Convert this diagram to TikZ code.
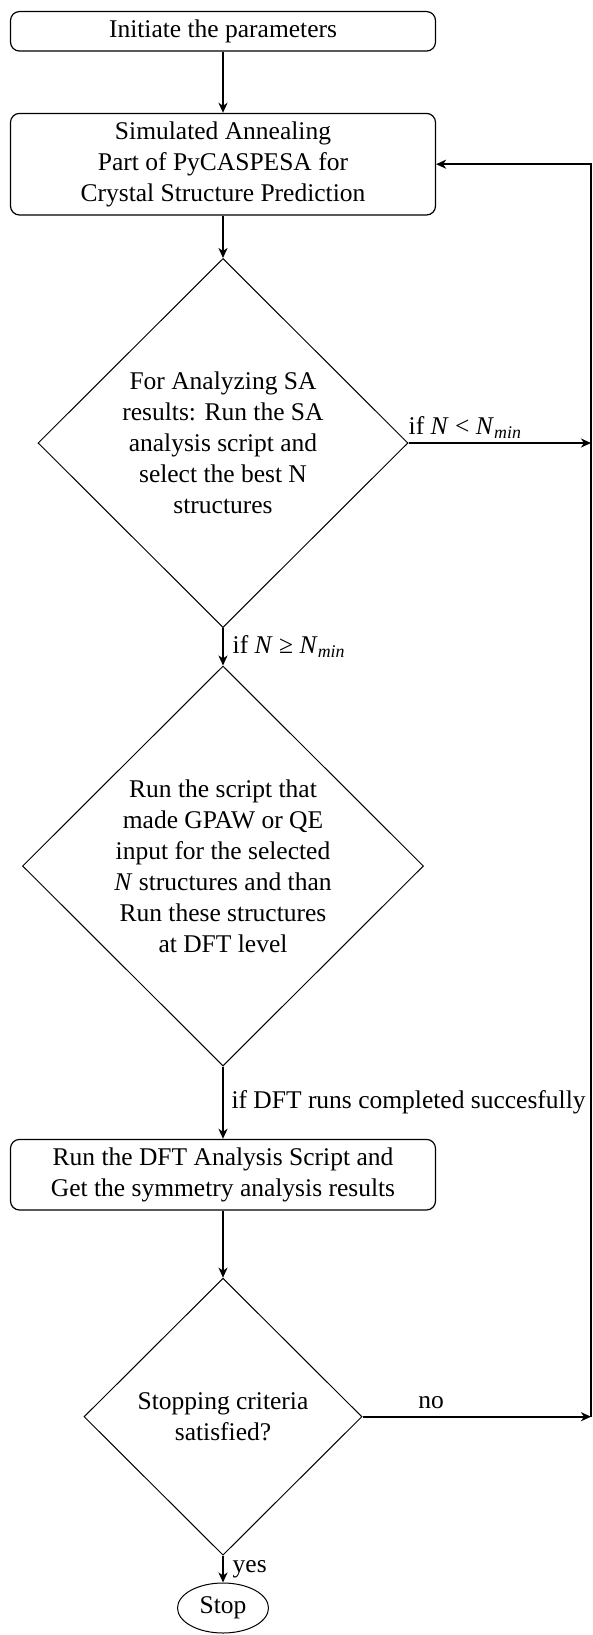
\documentclass[tikz,border=0pt]{standalone}
\usepackage{fontspec}
\setmainfont{Liberation Serif}
\usetikzlibrary{shapes.geometric,arrows.meta}
\begin{document}
\begin{tikzpicture}[x=1pt,y=-1pt,
  every node/.style={font=\fontsize{25.5}{31}\selectfont, inner sep=8.7pt},
  procbox/.style={draw, line width=1.2pt, rounded corners=9pt, minimum width=425pt, align=center, inner xsep=8.7pt, inner ysep=8.2pt},
  decbox/.style={draw, diamond, line width=1pt, inner sep=0pt, align=center},
  endbox/.style={draw, ellipse, line width=1pt, inner sep=0pt, minimum width=91pt, minimum height=50pt},
  arr/.style={line width=2pt, -{Stealth[length=10pt,width=9pt,inset=3pt]}}
]
\useasboundingbox (0,0) rectangle (592,1635);
\node[procbox] (init) at (223,31.3) {Initiate the parameters};
\node[procbox] (sa) at (223,164.2) {Simulated Annealing\\Part of PyCASPESA for\\Crystal Structure Prediction};
\node[decbox, minimum width=370pt, minimum height=369pt] (d1) at (223,443) {For Analyzing SA\\results: Run the SA\\analysis script and\\select the best N\\structures};
\node[decbox, minimum width=401pt, minimum height=400pt] (d2) at (223,866) {Run the script that\\made GPAW or QE\\input for the selected\\\textit{N} structures and than\\Run these structures\\at DFT level};
\node[procbox] (dft) at (223,1174.7) {Run the DFT Analysis Script and\\Get the symmetry analysis results};
\node[decbox, minimum width=278pt, minimum height=277pt] (d3) at (223,1416.7) {Stopping criteria\\satisfied?};
\node[endbox] (stop) at (223,1608) {Stop};
\coordinate (rx) at (591,0);

\draw[arr] (init) -- (sa);
\draw[arr] (sa) -- (d1);
\draw[arr] (d1.south) -- node[right] {if \textit{N} ≥ \textit{N}\textsubscript{\textit{min}}} (d2.north);
\draw[arr] (d2.south) -- node[right, inner sep=7.5pt] {if DFT runs completed succesfully} (dft.north);
\draw[arr] (dft) -- (d3);
\draw[arr] (d3.south) -- node[right] {yes} (stop.north);
\draw[arr] (d1.east) -- node[above, pos=0.31, inner sep=3.3pt] {if \textit{N} < \textit{N}\textsubscript{\textit{min}}} (d1.east -| rx);
\draw[arr] (d3.east) -- node[above, pos=0.3, inner sep=7pt] {no} (d3.east -| rx);
\draw[arr] (d3.east -| rx) -- (rx |- sa.east) -- (sa.east);
\end{tikzpicture}
\end{document}
